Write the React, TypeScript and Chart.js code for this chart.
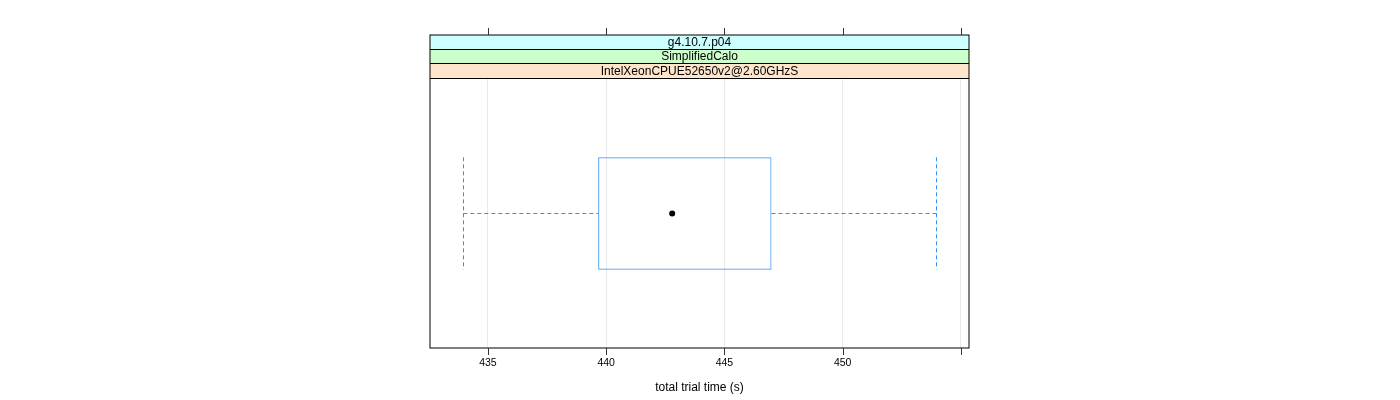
import React, { useEffect, useRef } from "react";
import { Chart, registerables } from "chart.js";

Chart.register(...registerables);

// ---- data ----
const STRIP_LABELS = ["g4.10.7.p04", "SimplifiedCalo", "IntelXeonCPUE52650v2@2.60GHzS"];
const STRIP_COLORS = ["#CCFFFF", "#CCFFCC", "#FFE5CC"];
const CATEGORIES = [""];
const WHISKER_LOW = [433.96];
const Q1 = [439.66];
const MEDIAN = [442.79];
const Q3 = [446.99];
const WHISKER_HIGH = [453.96];
const X_TICKS = [435, 440, 445, 450, 455];
const X_TICK_LABELS = ["435", "440", "445", "450", ""];
const X_MIN = 432.55;
const X_MAX = 455.34;
const X_TITLE = "total trial time (s)";

const FONT = "'Liberation Sans', Arial, Helvetica, sans-serif";
const BOX_COLOR = "#3f97f7";
const WHISKER_COLOR = "#2f8ff8";
const PANEL_TOP = 35;
const STRIP_BOUNDS = [35, 49, 63, 78];
const TICK_LEN = 7;

const panelPlugin = {
  id: "latticePanel",
  beforeDraw(chart: any) {
    const { ctx, width, height } = chart;
    ctx.save();
    ctx.fillStyle = "#ffffff";
    ctx.fillRect(0, 0, width, height);
    ctx.restore();
  },
  afterDatasetsDraw(chart: any) {
    const { ctx, scales } = chart;
    const xs = scales.x;
    const meta = chart.getDatasetMeta(0);
    meta.data.forEach((bar: any, i: number) => {
      const { y, height } = bar.getProps(["y", "height"], true);
      const top = y - height / 2;
      const bottom = y + height / 2;
      const yc = Math.floor(y) + 0.5;
      const xl = xs.getPixelForValue(WHISKER_LOW[i]);
      const x1 = xs.getPixelForValue(Q1[i]);
      const x3 = xs.getPixelForValue(Q3[i]);
      const xh = xs.getPixelForValue(WHISKER_HIGH[i]);
      const xm = xs.getPixelForValue(MEDIAN[i]);
      ctx.save();
      ctx.strokeStyle = WHISKER_COLOR;
      ctx.lineWidth = 1;
      ctx.setLineDash([4, 3]);
      ctx.beginPath();
      ctx.moveTo(xl, yc);
      ctx.lineTo(x1, yc);
      ctx.moveTo(x3, yc);
      ctx.lineTo(xh, yc);
      ctx.stroke();
      ctx.beginPath();
      ctx.moveTo(Math.round(xl) + 0.5, top);
      ctx.lineTo(Math.round(xl) + 0.5, bottom);
      ctx.moveTo(Math.round(xh) + 0.5, top);
      ctx.lineTo(Math.round(xh) + 0.5, bottom);
      ctx.stroke();
      ctx.setLineDash([]);
      ctx.fillStyle = "#000000";
      ctx.beginPath();
      ctx.arc(xm, y, 3, 0, Math.PI * 2);
      ctx.fill();
      ctx.restore();
    });
  },
  afterDraw(chart: any) {
    const { ctx, chartArea: a, scales } = chart;
    const xs = scales.x;
    ctx.save();
    // strips
    for (let i = 0; i < STRIP_LABELS.length; i++) {
      const t = STRIP_BOUNDS[i];
      const b = STRIP_BOUNDS[i + 1];
      ctx.fillStyle = STRIP_COLORS[i];
      ctx.fillRect(a.left, t, a.right - a.left, b - t);
      ctx.fillStyle = "#000000";
      ctx.font = `12px ${FONT}`;
      ctx.textAlign = "center";
      ctx.textBaseline = "middle";
      ctx.fillText(STRIP_LABELS[i], (a.left + a.right) / 2, (t + b) / 2 + 1);
    }
    ctx.strokeStyle = "#000000";
    ctx.lineWidth = 1;
    ctx.beginPath();
    for (let i = 1; i < STRIP_BOUNDS.length; i++) {
      ctx.moveTo(a.left, STRIP_BOUNDS[i] + 0.5);
      ctx.lineTo(a.right, STRIP_BOUNDS[i] + 0.5);
    }
    ctx.stroke();
    // panel border
    ctx.strokeStyle = "#000000";
    ctx.strokeRect(a.left, PANEL_TOP, a.right - a.left, a.bottom - PANEL_TOP);
    // top and bottom tick marks
    ctx.strokeStyle = "#333333";
    ctx.beginPath();
    X_TICKS.forEach((v) => {
      const px = Math.round(xs.getPixelForValue(v)) + 0.5;
      ctx.moveTo(px, PANEL_TOP - TICK_LEN);
      ctx.lineTo(px, PANEL_TOP);
      ctx.moveTo(px, a.bottom);
      ctx.lineTo(px, a.bottom + TICK_LEN);
    });
    ctx.stroke();
    ctx.restore();
  },
};

export default function App() {
  const canvasRef = useRef<HTMLCanvasElement | null>(null);

  useEffect(() => {
    if (!canvasRef.current) return;
    const chart = new Chart(canvasRef.current, {
      type: "bar",
      data: {
        labels: CATEGORIES,
        datasets: [
          {
            data: CATEGORIES.map((_, i) => [Q1[i], Q3[i]]) as any,
            backgroundColor: "rgba(0,0,0,0)",
            borderColor: BOX_COLOR,
            borderWidth: 1,
            borderSkipped: false,
            barPercentage: 0.4175,
            categoryPercentage: 1,
          },
        ],
      },
      options: {
        indexAxis: "y",
        animation: false,
        responsive: false,
        events: [],
        layout: { padding: { left: 430, right: 431, top: 79, bottom: 0 } },
        plugins: { legend: { display: false }, tooltip: { enabled: false } },
        scales: {
          y: { display: false },
          x: {
            type: "linear",
            min: X_MIN,
            max: X_MAX,
            afterBuildTicks: (scale: any) => {
              scale.ticks = X_TICKS.map((v) => ({ value: v }));
            },
            afterFit: (scale: any) => {
              scale.height = 52;
            },
            border: { display: false },
            grid: {
              color: "#e9e9e9",
              lineWidth: 1,
              drawTicks: false,
            },
            ticks: {
              autoSkip: false,
              maxRotation: 0,
              padding: 2 + TICK_LEN,
              color: "#000000",
              font: { family: FONT, size: 10.5 },
              callback: (v: any) => {
                const idx = X_TICKS.indexOf(Number(v));
                return idx >= 0 ? X_TICK_LABELS[idx] : "";
              },
            },
            title: {
              display: true,
              text: X_TITLE,
              color: "#000000",
              font: { family: FONT, size: 12 },
              padding: { top: 0, bottom: 5 },
            },
          },
        },
      },
      plugins: [panelPlugin],
    });
    return () => chart.destroy();
  }, []);

  return (
    <div style={{ position: "absolute", left: 0, top: 0, width: 1400, height: 400 }}>
      <canvas ref={canvasRef} width={1400} height={400} style={{ display: "block" }} />
    </div>
  );
}
